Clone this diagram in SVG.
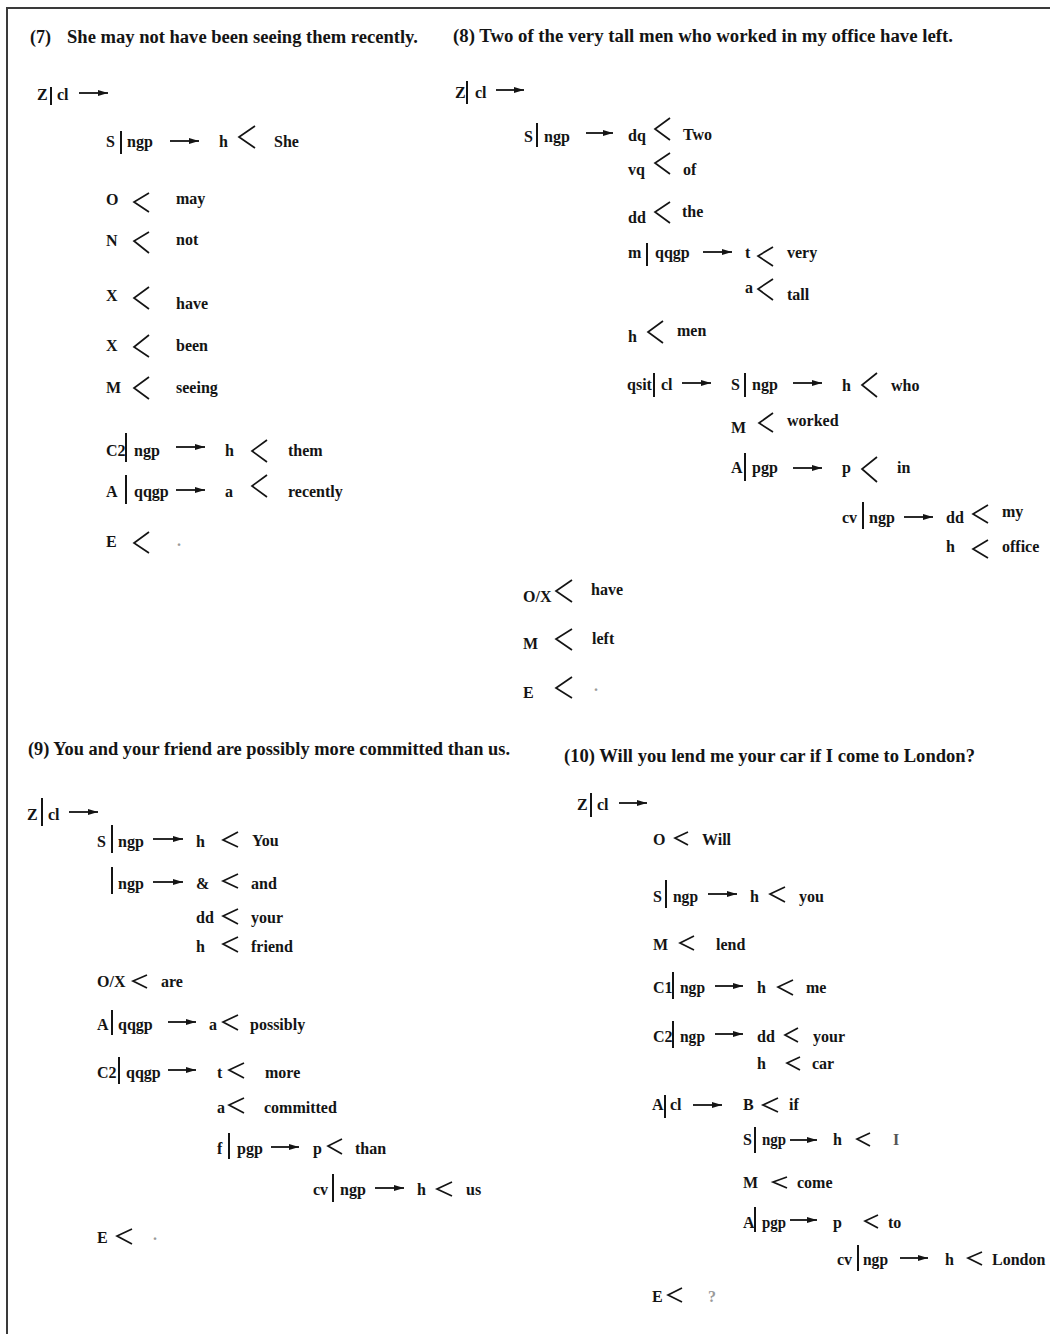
<svg xmlns="http://www.w3.org/2000/svg" width="1050" height="1334" viewBox="0 0 1050 1334">
<defs>
<style>
text{font-family:"Liberation Serif","Times New Roman",serif;font-weight:bold;fill:#141414}
.t{font-size:18px}
.l{font-size:16px}
.w{font-size:16px}
.g{fill:#9a9a9a}
.bar{stroke:#141414;stroke-width:2}
.arr{stroke:#141414;stroke-width:1.8;fill:none;marker-end:url(#ah)}
.ch{stroke:#141414;stroke-width:1.7;fill:none;stroke-linejoin:miter}
.frame{stroke:#3a3a3a;stroke-width:2;fill:none}
</style>
<marker id="ah" viewBox="0 0 10 6" refX="10" refY="3" markerWidth="10" markerHeight="6" markerUnits="userSpaceOnUse" orient="auto">
<path d="M0,0 L10,3 L0,6 z" fill="#141414"/>
</marker>
</defs>
<rect width="1050" height="1334" fill="#ffffff"/>
<path class="frame" d="M1050,8 L7,8 L7,1334"/>

<!-- Section 7 -->
<g id="s7">
<g id="s7-title"><text class="t" x="30" y="43">(7)</text><text class="t" x="67" y="43" textLength="351" lengthAdjust="spacingAndGlyphs">She may not have been seeing them recently.</text></g>
<g id="s7-Z"><text class="l" x="37" y="100">Z</text><line class="bar" x1="51" y1="87" x2="51" y2="105"/><text class="l" x="57" y="100">cl</text></g>
<g id="s7-S"><text class="l" x="106" y="147">S</text><line class="bar" x1="121" y1="131" x2="121" y2="154"/><text class="l" x="127" y="147">ngp</text></g>
<g id="s7-S-h"><text class="l" x="219" y="147">h</text><text class="w" x="274" y="147">She</text></g>
<g id="s7-O"><text class="l" x="106" y="205">O</text><text class="w" x="176" y="204">may</text></g>
<g id="s7-N"><text class="l" x="106" y="246">N</text><text class="w" x="176" y="245">not</text></g>
<g id="s7-X1"><text class="l" x="106" y="301">X</text><text class="w" x="176" y="309">have</text></g>
<g id="s7-X2"><text class="l" x="106" y="351">X</text><text class="w" x="176" y="351">been</text></g>
<g id="s7-M"><text class="l" x="106" y="393">M</text><text class="w" x="176" y="393">seeing</text></g>
<g id="s7-C2"><text class="l" x="106" y="456">C2</text><line class="bar" x1="126" y1="433" x2="126" y2="462"/><text class="l" x="134" y="456">ngp</text></g>
<g id="s7-C2-h"><text class="l" x="225" y="456">h</text><text class="w" x="288" y="456">them</text></g>
<g id="s7-A"><text class="l" x="106" y="497">A</text><line class="bar" x1="126" y1="475" x2="126" y2="504"/><text class="l" x="134" y="497">qqgp</text></g>
<g id="s7-A-a"><text class="l" x="225" y="497">a</text><text class="w" x="288" y="497">recently</text></g>
<g id="s7-E"><text class="l" x="106" y="547">E</text><text class="w g" x="177" y="546">.</text></g>
</g>

<!-- Section 8 -->
<g id="s8">
<g id="s8-title"><text class="t" x="453" y="42" textLength="500" lengthAdjust="spacingAndGlyphs">(8) Two of the very tall men who worked in my office have left.</text></g>
<g id="s8-Z"><text class="l" x="455" y="98">Z</text><line class="bar" x1="467" y1="81" x2="467" y2="104"/><text class="l" x="475" y="98">cl</text></g>
<g id="s8-S"><text class="l" x="524" y="142">S</text><line class="bar" x1="537" y1="123" x2="537" y2="147"/><text class="l" x="544" y="142">ngp</text></g>
<g id="s8-dq"><text class="l" x="628" y="141">dq</text><text class="w" x="683" y="140">Two</text></g>
<g id="s8-vq"><text class="l" x="628" y="175">vq</text><text class="w" x="683" y="175">of</text></g>
<g id="s8-dd"><text class="l" x="628" y="223">dd</text><text class="w" x="682" y="217">the</text></g>
<g id="s8-m"><text class="l" x="628" y="258">m</text><line class="bar" x1="647" y1="243" x2="647" y2="266"/><text class="l" x="655" y="258">qqgp</text></g>
<g id="s8-t"><text class="l" x="745" y="258">t</text><text class="w" x="787" y="258">very</text></g>
<g id="s8-a"><text class="l" x="745" y="293">a</text><text class="w" x="787" y="300">tall</text></g>
<g id="s8-h"><text class="l" x="628" y="342">h</text><text class="w" x="677" y="336">men</text></g>
<g id="s8-qsit"><text class="l" x="627" y="390">qsit</text><line class="bar" x1="654" y1="373" x2="654" y2="397"/><text class="l" x="661" y="390">cl</text></g>
<g id="s8-S2"><text class="l" x="731" y="390">S</text><line class="bar" x1="745" y1="373" x2="745" y2="397"/><text class="l" x="752" y="390">ngp</text></g>
<g id="s8-S2-h"><text class="l" x="842" y="391">h</text><text class="w" x="891" y="391">who</text></g>
<g id="s8-M2"><text class="l" x="731" y="433">M</text><text class="w" x="787" y="426">worked</text></g>
<g id="s8-A"><text class="l" x="731" y="473">A</text><line class="bar" x1="745" y1="453" x2="745" y2="481"/><text class="l" x="752" y="473">pgp</text></g>
<g id="s8-p"><text class="l" x="842" y="473">p</text><text class="w" x="897" y="473">in</text></g>
<g id="s8-cv"><text class="l" x="842" y="523">cv</text><line class="bar" x1="863" y1="502" x2="863" y2="529"/><text class="l" x="869" y="523">ngp</text></g>
<g id="s8-dd2"><text class="l" x="946" y="523">dd</text><text class="w" x="1002" y="517">my</text></g>
<g id="s8-h2"><text class="l" x="946" y="552">h</text><text class="w" x="1002" y="552">office</text></g>
<g id="s8-OX"><text class="l" x="523" y="602">O/X</text><text class="w" x="591" y="595">have</text></g>
<g id="s8-M"><text class="l" x="523" y="649">M</text><text class="w" x="592" y="644">left</text></g>
<g id="s8-E"><text class="l" x="523" y="698">E</text><text class="w g" x="594" y="691">.</text></g>
</g>

<!-- Section 9 -->
<g id="s9">
<g id="s9-title"><text class="t" x="28" y="755" textLength="482" lengthAdjust="spacingAndGlyphs">(9) You and your friend are possibly more committed than us.</text></g>
<g id="s9-Z"><text class="l" x="27" y="820">Z</text><line class="bar" x1="42" y1="798" x2="42" y2="826"/><text class="l" x="48" y="820">cl</text></g>
<g id="s9-S"><text class="l" x="97" y="847">S</text><line class="bar" x1="112" y1="825" x2="112" y2="853"/><text class="l" x="118" y="847">ngp</text></g>
<g id="s9-h1"><text class="l" x="196" y="847">h</text><text class="w" x="252" y="846">You</text></g>
<g id="s9-ngp2"><line class="bar" x1="112" y1="867" x2="112" y2="894"/><text class="l" x="118" y="889">ngp</text></g>
<g id="s9-amp"><text class="l" x="196" y="889">&amp;</text><text class="w" x="251" y="889">and</text></g>
<g id="s9-dd"><text class="l" x="196" y="923">dd</text><text class="w" x="251" y="923">your</text></g>
<g id="s9-h2"><text class="l" x="196" y="952">h</text><text class="w" x="251" y="952">friend</text></g>
<g id="s9-OX"><text class="l" x="97" y="987">O/X</text><text class="w" x="161" y="987">are</text></g>
<g id="s9-A"><text class="l" x="97" y="1030">A</text><line class="bar" x1="112" y1="1010" x2="112" y2="1035"/><text class="l" x="118" y="1030">qqgp</text></g>
<g id="s9-a1"><text class="l" x="209" y="1030">a</text><text class="w" x="250" y="1030">possibly</text></g>
<g id="s9-C2"><text class="l" x="97" y="1078">C2</text><line class="bar" x1="119" y1="1057" x2="119" y2="1084"/><text class="l" x="126" y="1078">qqgp</text></g>
<g id="s9-t"><text class="l" x="217" y="1078">t</text><text class="w" x="265" y="1078">more</text></g>
<g id="s9-a2"><text class="l" x="217" y="1113">a</text><text class="w" x="264" y="1113">committed</text></g>
<g id="s9-f"><text class="l" x="217" y="1154">f</text><line class="bar" x1="229" y1="1133" x2="229" y2="1159"/><text class="l" x="237" y="1154">pgp</text></g>
<g id="s9-p"><text class="l" x="313" y="1154">p</text><text class="w" x="355" y="1154">than</text></g>
<g id="s9-cv"><text class="l" x="313" y="1195">cv</text><line class="bar" x1="333" y1="1174" x2="333" y2="1202"/><text class="l" x="340" y="1195">ngp</text></g>
<g id="s9-h3"><text class="l" x="417" y="1195">h</text><text class="w" x="466" y="1195">us</text></g>
<g id="s9-E"><text class="l" x="97" y="1243">E</text><text class="w g" x="153" y="1240">.</text></g>
</g>

<!-- Section 10 -->
<g id="s10">
<g id="s10-title"><text class="t" x="564" y="762" textLength="411" lengthAdjust="spacingAndGlyphs">(10) Will you lend me your car if I come to London?</text></g>
<g id="s10-Z"><text class="l" x="577" y="810">Z</text><line class="bar" x1="591" y1="793" x2="591" y2="817"/><text class="l" x="597" y="810">cl</text></g>
<g id="s10-O"><text class="l" x="653" y="845">O</text><text class="w" x="702" y="845">Will</text></g>
<g id="s10-S"><text class="l" x="653" y="902">S</text><line class="bar" x1="666" y1="880" x2="666" y2="908"/><text class="l" x="673" y="902" textLength="25" lengthAdjust="spacingAndGlyphs">ngp</text></g>
<g id="s10-h1"><text class="l" x="750" y="902">h</text><text class="w" x="799" y="902">you</text></g>
<g id="s10-M"><text class="l" x="653" y="950">M</text><text class="w" x="716" y="950">lend</text></g>
<g id="s10-C1"><text class="l" x="653" y="993">C1</text><line class="bar" x1="673" y1="972" x2="673" y2="999"/><text class="l" x="680" y="993" textLength="25" lengthAdjust="spacingAndGlyphs">ngp</text></g>
<g id="s10-h2"><text class="l" x="757" y="993">h</text><text class="w" x="806" y="993">me</text></g>
<g id="s10-C2"><text class="l" x="653" y="1042">C2</text><line class="bar" x1="673" y1="1021" x2="673" y2="1048"/><text class="l" x="680" y="1042" textLength="25" lengthAdjust="spacingAndGlyphs">ngp</text></g>
<g id="s10-dd"><text class="l" x="757" y="1042">dd</text><text class="w" x="813" y="1042">your</text></g>
<g id="s10-h3"><text class="l" x="757" y="1069">h</text><text class="w" x="812" y="1069">car</text></g>
<g id="s10-A"><text class="l" x="652" y="1110">A</text><line class="bar" x1="665" y1="1095" x2="665" y2="1118"/><text class="l" x="670" y="1110">cl</text></g>
<g id="s10-B"><text class="l" x="743" y="1110">B</text><text class="w" x="789" y="1110">if</text></g>
<g id="s10-S2"><text class="l" x="743" y="1145">S</text><line class="bar" x1="755" y1="1127" x2="755" y2="1153"/><text class="l" x="762" y="1145" textLength="24" lengthAdjust="spacingAndGlyphs">ngp</text></g>
<g id="s10-h4"><text class="l" x="833" y="1145">h</text><text class="w" x="893" y="1145" style="fill:#555">I</text></g>
<g id="s10-M2"><text class="l" x="743" y="1188">M</text><text class="w" x="797" y="1188">come</text></g>
<g id="s10-A2"><text class="l" x="743" y="1228">A</text><line class="bar" x1="755" y1="1207" x2="755" y2="1232"/><text class="l" x="762" y="1228" textLength="24" lengthAdjust="spacingAndGlyphs">pgp</text></g>
<g id="s10-p"><text class="l" x="833" y="1228">p</text><text class="w" x="888" y="1228">to</text></g>
<g id="s10-cv"><text class="l" x="837" y="1265">cv</text><line class="bar" x1="858" y1="1245" x2="858" y2="1271"/><text class="l" x="863" y="1265" textLength="25" lengthAdjust="spacingAndGlyphs">ngp</text></g>
<g id="s10-h5"><text class="l" x="945" y="1265">h</text><text class="w" x="992" y="1265">London</text></g>
<g id="s10-E"><text class="l" x="652" y="1302">E</text><text class="w g" x="708" y="1302">?</text></g>
</g>

<!-- Connectors: arrows and chevrons -->
<g id="connectors">
<!-- s7 -->
<line class="arr" x1="79" y1="93" x2="108" y2="93"/>
<line class="arr" x1="170" y1="141" x2="199" y2="141"/>
<polyline class="ch" points="255,126 239,137 255,148"/>
<polyline class="ch" points="149,193 134,202 149,212"/>
<polyline class="ch" points="149,232 134,241 149,253"/>
<polyline class="ch" points="149,287 134,298 149,309"/>
<polyline class="ch" points="149,335 134,347 149,357"/>
<polyline class="ch" points="149,377 134,388 149,399"/>
<line class="arr" x1="176" y1="447" x2="205" y2="447"/>
<polyline class="ch" points="267,440 252,451 267,462"/>
<line class="arr" x1="176" y1="490" x2="205" y2="490"/>
<polyline class="ch" points="267,475 252,486 267,497"/>
<polyline class="ch" points="149,532 134,543 149,553"/>
<!-- s8 -->
<line class="arr" x1="496" y1="90" x2="524" y2="90"/>
<line class="arr" x1="586" y1="133" x2="613" y2="133"/>
<polyline class="ch" points="670,118 655,129 670,140"/>
<polyline class="ch" points="670,153 655,163 670,174"/>
<polyline class="ch" points="670,202 655,212 670,223"/>
<line class="arr" x1="703" y1="252" x2="732" y2="252"/>
<polyline class="ch" points="773,247 758,256 773,266"/>
<polyline class="ch" points="773,279 758,289 773,300"/>
<polyline class="ch" points="663,321 648,332 663,343"/>
<line class="arr" x1="682" y1="383" x2="711" y2="383"/>
<line class="arr" x1="793" y1="383" x2="822" y2="383"/>
<polyline class="ch" points="877,373 862,385 877,397"/>
<polyline class="ch" points="773,413 759,423 773,432"/>
<line class="arr" x1="793" y1="468" x2="822" y2="468"/>
<polyline class="ch" points="877,457 862,469 877,482"/>
<line class="arr" x1="904" y1="517" x2="933" y2="517"/>
<polyline class="ch" points="988,505 973,514 988,523"/>
<polyline class="ch" points="988,540 973,549 988,558"/>
<polyline class="ch" points="572,580 556,591 572,602"/>
<polyline class="ch" points="572,629 556,639 572,650"/>
<polyline class="ch" points="572,677 556,688 572,698"/>
<!-- s9 -->
<line class="arr" x1="69" y1="812" x2="98" y2="812"/>
<line class="arr" x1="153" y1="839" x2="183" y2="839"/>
<polyline class="ch" points="238,832 223,840 238,847"/>
<line class="arr" x1="153" y1="882" x2="183" y2="882"/>
<polyline class="ch" points="238,874 223,881 238,888"/>
<polyline class="ch" points="238,909 223,916 238,924"/>
<polyline class="ch" points="238,937 223,944 238,952"/>
<polyline class="ch" points="147,975 133,981 147,988"/>
<line class="arr" x1="168" y1="1022" x2="196" y2="1022"/>
<polyline class="ch" points="238,1015 223,1022 238,1030"/>
<line class="arr" x1="168" y1="1070" x2="196" y2="1070"/>
<polyline class="ch" points="244,1063 229,1070 244,1078"/>
<polyline class="ch" points="244,1098 229,1105 244,1113"/>
<line class="arr" x1="271" y1="1147" x2="299" y2="1147"/>
<polyline class="ch" points="342,1139 328,1146 342,1154"/>
<line class="arr" x1="375" y1="1188" x2="404" y2="1188"/>
<polyline class="ch" points="452,1182 437,1189 452,1196"/>
<polyline class="ch" points="132,1229 117,1236 132,1244"/>
<!-- s10 -->
<line class="arr" x1="619" y1="803" x2="647" y2="803"/>
<polyline class="ch" points="688,832 675,838 688,845"/>
<line class="arr" x1="708" y1="894" x2="737" y2="894"/>
<polyline class="ch" points="785,887 770,894 785,902"/>
<polyline class="ch" points="694,936 680,943 694,950"/>
<line class="arr" x1="715" y1="986" x2="743" y2="986"/>
<polyline class="ch" points="793,980 778,987 793,995"/>
<line class="arr" x1="715" y1="1034" x2="743" y2="1034"/>
<polyline class="ch" points="798,1028 785,1035 798,1042"/>
<polyline class="ch" points="800,1057 787,1063 800,1070"/>
<line class="arr" x1="693" y1="1105" x2="722" y2="1105"/>
<polyline class="ch" points="778,1098 763,1105 778,1112"/>
<line class="arr" x1="790" y1="1140" x2="817" y2="1140"/>
<polyline class="ch" points="870,1133 857,1139 870,1146"/>
<polyline class="ch" points="787,1177 773,1182 787,1188"/>
<line class="arr" x1="790" y1="1220" x2="817" y2="1220"/>
<polyline class="ch" points="878,1215 865,1221 878,1228"/>
<line class="arr" x1="900" y1="1258" x2="928" y2="1258"/>
<polyline class="ch" points="982,1252 968,1258 982,1265"/>
<polyline class="ch" points="682,1288 668,1295 682,1302"/>
</g>
</svg>
